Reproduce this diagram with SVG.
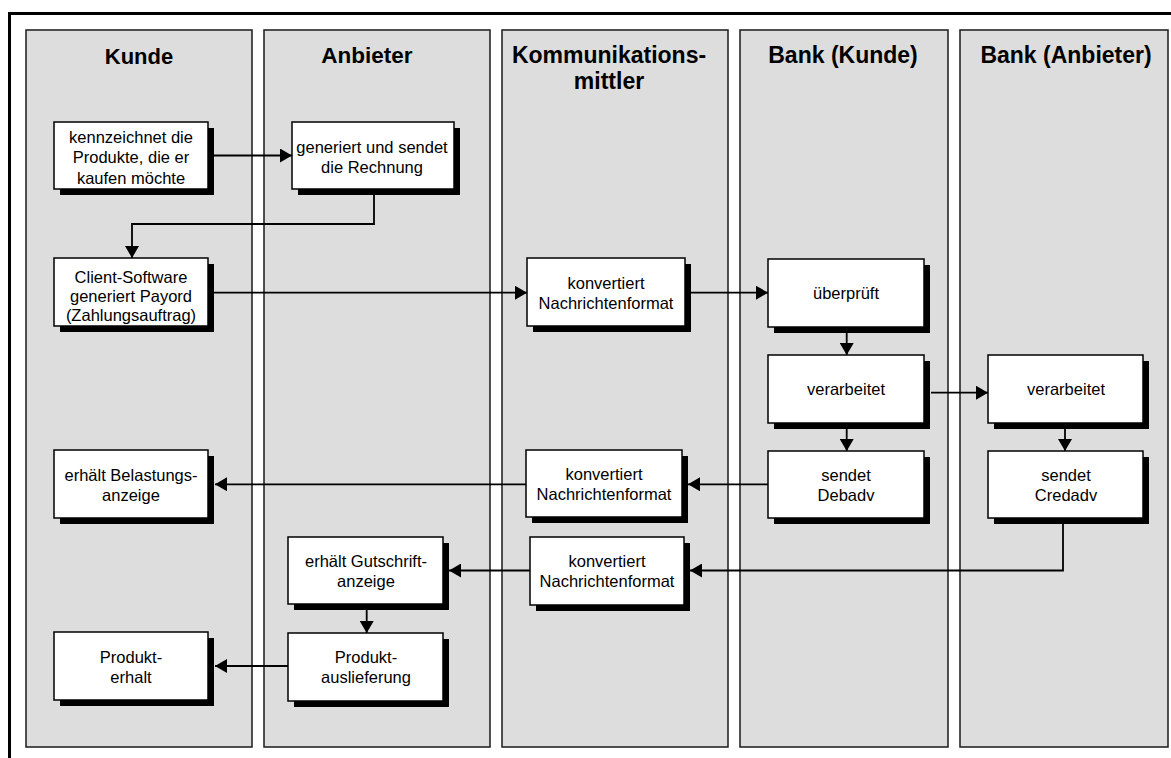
<svg xmlns="http://www.w3.org/2000/svg" width="1171" height="758" viewBox="0 0 1171 758">
  <style>
    .lane { fill: #dddddd; stroke: #1a1a1a; stroke-width: 1.5; }
    .hdr { font-family: "Liberation Sans", Arial, sans-serif; font-weight: bold; font-size: 23px; text-anchor: middle; fill: #000; }
    .shadow { fill: #000; }
    .box { fill: #fff; stroke: #000; stroke-width: 1.5; }
    .lbl { font-family: "Liberation Sans", Arial, sans-serif; font-size: 16.5px; text-anchor: middle; fill: #000; }
    .conn { fill: none; stroke: #000; stroke-width: 1.8; marker-end: url(#arrow); }
  </style>
  <defs>
    <marker id="arrow" markerUnits="userSpaceOnUse" markerWidth="12" markerHeight="14" refX="12" refY="7" orient="auto">
      <path d="M0,0 L12,7 L0,14 z" fill="#000"/>
    </marker>
  </defs>

  <rect x="0" y="0" width="1171" height="758" fill="#fff"/>
  <!-- outer frame -->
  <rect x="9.5" y="13.5" width="1200" height="800" fill="none" stroke="#000" stroke-width="3"/>

  <!-- swimlanes -->
  <g id="lanes">
    <g id="lane-kunde">
      <rect class="lane" x="26" y="30" width="226" height="717"/>
      <text class="hdr" x="139" y="64" style="font-size:22px">Kunde</text>
    </g>
    <g id="lane-anbieter">
      <rect class="lane" x="264" y="30" width="226" height="717"/>
      <text class="hdr" x="367" y="63" style="font-size:22.5px">Anbieter</text>
    </g>
    <g id="lane-kommunikationsmittler">
      <rect class="lane" x="502" y="30" width="226" height="717"/>
      <text class="hdr" x="609" y="63">Kommunikations-</text>
      <text class="hdr" x="609" y="89">mittler</text>
    </g>
    <g id="lane-bank-kunde">
      <rect class="lane" x="740" y="30" width="208" height="717"/>
      <text class="hdr" x="843" y="63">Bank (Kunde)</text>
    </g>
    <g id="lane-bank-anbieter">
      <rect class="lane" x="960" y="30" width="208" height="717"/>
      <text class="hdr" x="1066" y="63">Bank (Anbieter)</text>
    </g>
  </g>

  <!-- connectors -->
  <g id="connectors">
    <path class="conn" d="M214,155.5 H292"/>
    <path class="conn" d="M374,195 V224 H132 V258"/>
    <path class="conn" d="M214,292.7 H527"/>
    <path class="conn" d="M691,292.7 H768"/>
    <path class="conn" d="M846.7,333 V355"/>
    <path class="conn" d="M931,392.7 H988"/>
    <path class="conn" d="M846.7,429 V451"/>
    <path class="conn" d="M1065,429 V451"/>
    <path class="conn" d="M768,484.3 H688"/>
    <path class="conn" d="M526,484.3 H215"/>
    <path class="conn" d="M1063,524 V570.5 H690"/>
    <path class="conn" d="M530,570.5 H449"/>
    <path class="conn" d="M366.7,610 V633"/>
    <path class="conn" d="M288,666 H215"/>
  </g>

  <!-- Kunde -->
  <g id="node-kennzeichnet">
    <rect class="shadow" x="60" y="128" width="154" height="67"/>
    <rect class="box" x="54" y="122" width="154" height="67"/>
    <text class="lbl" x="131" y="142.5">kennzeichnet die</text>
    <text class="lbl" x="131" y="163">Produkte, die er</text>
    <text class="lbl" x="131" y="183.5">kaufen möchte</text>
  </g>
  <g id="node-client-software">
    <rect class="shadow" x="60" y="264" width="154" height="68"/>
    <rect class="box" x="54" y="258" width="154" height="68"/>
    <text class="lbl" x="131" y="282.5">Client-Software</text>
    <text class="lbl" x="131" y="302">generiert Payord</text>
    <text class="lbl" x="131" y="321">(Zahlungsauftrag)</text>
  </g>
  <g id="node-belastungsanzeige">
    <rect class="shadow" x="60" y="456" width="154" height="68"/>
    <rect class="box" x="54" y="450" width="154" height="68"/>
    <text class="lbl" x="131" y="480.5">erhält Belastungs-</text>
    <text class="lbl" x="131" y="500.5">anzeige</text>
  </g>
  <g id="node-produkterhalt">
    <rect class="shadow" x="60" y="638" width="154" height="68"/>
    <rect class="box" x="54" y="632" width="154" height="68"/>
    <text class="lbl" x="131" y="662.5">Produkt-</text>
    <text class="lbl" x="131" y="682.5">erhalt</text>
  </g>

  <!-- Anbieter -->
  <g id="node-rechnung">
    <rect class="shadow" x="298" y="128" width="162" height="67"/>
    <rect class="box" x="292" y="122" width="162" height="67"/>
    <text class="lbl" x="372" y="153">generiert und sendet</text>
    <text class="lbl" x="372" y="173">die Rechnung</text>
  </g>
  <g id="node-gutschriftanzeige">
    <rect class="shadow" x="294" y="543" width="155" height="67"/>
    <rect class="box" x="288" y="537" width="155" height="67"/>
    <text class="lbl" x="366" y="567">erhält Gutschrift-</text>
    <text class="lbl" x="366" y="587">anzeige</text>
  </g>
  <g id="node-produktauslieferung">
    <rect class="shadow" x="294" y="639" width="155" height="68"/>
    <rect class="box" x="288" y="633" width="155" height="68"/>
    <text class="lbl" x="366" y="663">Produkt-</text>
    <text class="lbl" x="366" y="683">auslieferung</text>
  </g>

  <!-- Kommunikationsmittler -->
  <g id="node-konvertiert-1">
    <rect class="shadow" x="533" y="264" width="158" height="68"/>
    <rect class="box" x="527" y="258" width="158" height="68"/>
    <text class="lbl" x="606" y="288.5">konvertiert</text>
    <text class="lbl" x="606" y="308.5">Nachrichtenformat</text>
  </g>
  <g id="node-konvertiert-2">
    <rect class="shadow" x="532" y="456" width="156" height="67"/>
    <rect class="box" x="526" y="450" width="156" height="67"/>
    <text class="lbl" x="604" y="480">konvertiert</text>
    <text class="lbl" x="604" y="500">Nachrichtenformat</text>
  </g>
  <g id="node-konvertiert-3">
    <rect class="shadow" x="536" y="543" width="154" height="68"/>
    <rect class="box" x="530" y="537" width="154" height="68"/>
    <text class="lbl" x="607" y="567">konvertiert</text>
    <text class="lbl" x="607" y="587">Nachrichtenformat</text>
  </g>

  <!-- Bank (Kunde) -->
  <g id="node-ueberprueft">
    <rect class="shadow" x="774" y="265" width="156" height="68"/>
    <rect class="box" x="768" y="259" width="156" height="68"/>
    <text class="lbl" x="846" y="299">überprüft</text>
  </g>
  <g id="node-verarbeitet-kunde">
    <rect class="shadow" x="774" y="361" width="156" height="68"/>
    <rect class="box" x="768" y="355" width="156" height="68"/>
    <text class="lbl" x="846" y="395">verarbeitet</text>
  </g>
  <g id="node-debadv">
    <rect class="shadow" x="774" y="457" width="156" height="67"/>
    <rect class="box" x="768" y="451" width="156" height="67"/>
    <text class="lbl" x="846" y="481">sendet</text>
    <text class="lbl" x="846" y="501">Debadv</text>
  </g>

  <!-- Bank (Anbieter) -->
  <g id="node-verarbeitet-anbieter">
    <rect class="shadow" x="994" y="361" width="155" height="68"/>
    <rect class="box" x="988" y="355" width="155" height="68"/>
    <text class="lbl" x="1066" y="395">verarbeitet</text>
  </g>
  <g id="node-credadv">
    <rect class="shadow" x="994" y="457" width="155" height="67"/>
    <rect class="box" x="988" y="451" width="155" height="67"/>
    <text class="lbl" x="1066" y="481">sendet</text>
    <text class="lbl" x="1066" y="501">Credadv</text>
  </g>
</svg>
